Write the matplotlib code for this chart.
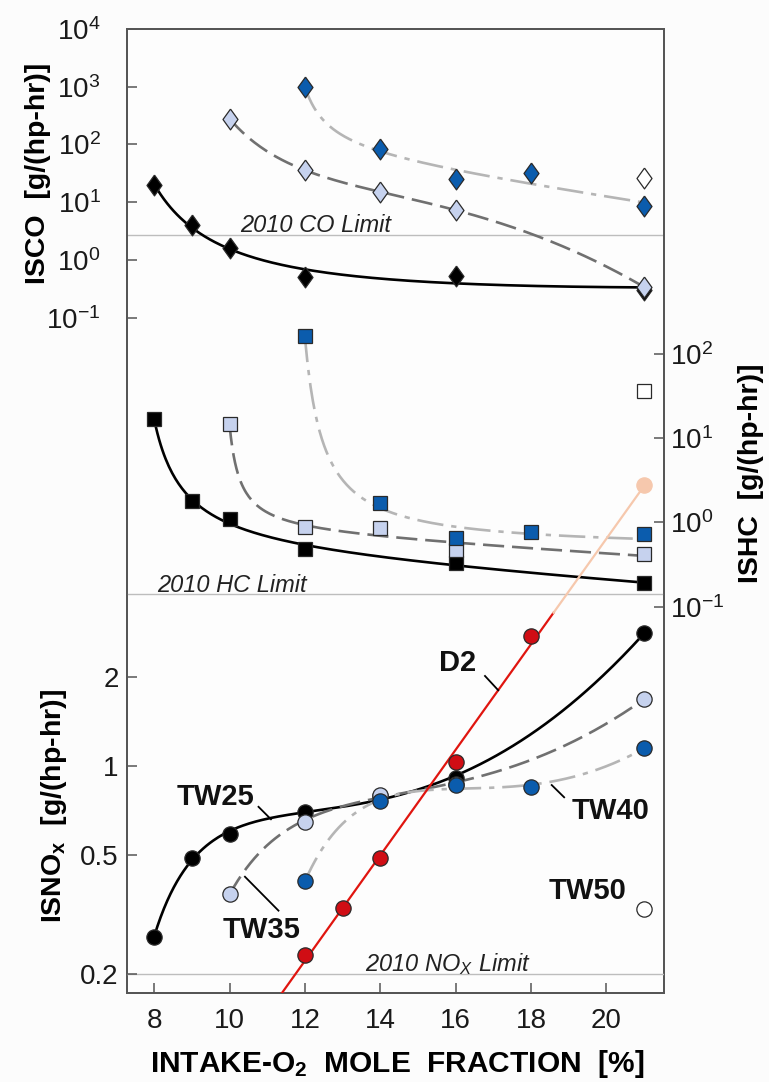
import numpy as np
import matplotlib
matplotlib.use('Agg')
import matplotlib.pyplot as plt
from matplotlib.ticker import NullLocator

plt.rcParams['font.family'] = ['Liberation Sans', 'DejaVu Sans']
plt.rcParams['mathtext.fontset'] = 'custom'
plt.rcParams['mathtext.rm'] = 'Liberation Sans'
plt.rcParams['mathtext.it'] = 'Liberation Sans:italic'
plt.rcParams['mathtext.bf'] = 'Liberation Sans:bold'
plt.rcParams['mathtext.default'] = 'regular'

# ---- ISCO [g/(hp-hr)] ----
co_tw25_x = [8, 9, 10, 12, 16, 21]
co_tw25 = [20, 4.0, 1.6, 0.51, 0.53, 0.30]
co_tw35_x = [10, 12, 14, 16, 21]
co_tw35 = [280, 36, 15, 7.3, 0.34]
co_tw40_x = [12, 14, 16, 18, 21]
co_tw40 = [1000, 83, 25, 32, 8.6]
co_tw50_x = [21]
co_tw50 = [26]

# ---- ISHC [g/(hp-hr)] ----
hc_tw25_x = [8, 9, 10, 12, 16, 21]
hc_tw25 = [16.9, 1.79, 1.09, 0.48, 0.33, 0.19]
hc_tw35_x = [10, 12, 14, 16, 21]
hc_tw35 = [14.6, 0.89, 0.85, 0.47, 0.42]
hc_tw40_x = [12, 14, 16, 18, 21]
hc_tw40 = [164, 1.68, 0.65, 0.77, 0.73]
hc_tw50_x = [21]
hc_tw50 = [36.6]

# ---- ISNOx [g/(hp-hr)] ----
nox_tw25_x = [8, 9, 10, 12, 14, 16, 21]
nox_tw25 = [0.266, 0.49, 0.59, 0.70, 0.79, 0.91, 2.80]
nox_tw35_x = [10, 12, 14, 16, 21]
nox_tw35 = [0.37, 0.65, 0.80, 0.87, 1.68]
nox_tw40_x = [12, 14, 16, 18, 21]
nox_tw40 = [0.41, 0.76, 0.86, 0.85, 1.15]
nox_tw50_x = [21]
nox_tw50 = [0.33]
d2_x = [12, 13, 14, 16, 18, 21]
d2_nox = [0.232, 0.332, 0.49, 1.03, 2.74, 8.8]

# 2010 emission limits
co_limit = 2.7
hc_limit = 0.14
nox_limit = 0.2

# colours / styles
BLACK = '#000000'
LIGHT = '#c6d2ee'
BLUE = '#0b5cad'
RED = '#d00d14'
PEACH = '#f6c8ad'
EDGE = '#2a2a2a'
C35 = '#707070'
C40 = '#b5b5b5'
LIMIT = '#bdbdbd'
FRAME = '#555555'
DASH35 = (0, (8, 3))
DASH40 = (0, (10, 3, 2, 3))
DIAMOND = [(0, 1), (0.72, 0), (0, -1), (-0.72, 0), (0, 1)]
d2_fade_from = 18.6


def trend(x, y, order):
    # least squares: log10(y) = a + b/(x-c) + d*x + e*x^2 ...
    x = np.asarray(x, float)
    ly = np.log10(y)

    def design(xx, c):
        cols = [np.ones_like(xx), 1.0 / (xx - c)] + [xx ** k for k in range(1, order + 1)]
        return np.column_stack(cols)

    best = None
    for c in np.linspace(x[0] - 4, x[0] - 0.05, 400):
        A = design(x, c)
        coef = np.linalg.lstsq(A, ly, rcond=None)[0]
        err = np.sum((A @ coef - ly) ** 2)
        if best is None or err < best[0]:
            best = (err, c, coef)
    _, c, coef = best
    xs = np.linspace(x[0], x[-1], 300)
    return xs, 10 ** (design(xs, c) @ coef)


def series(axis, x, y, face, lcolor, ls, order, marker, ms, edge=EDGE):
    if lcolor is not None:
        xs, ys = trend(x, y, order)
        axis.plot(xs, ys, color=lcolor, ls=ls, lw=1.9, zorder=2)
    axis.plot(x, y, ls='none', marker=marker, ms=ms, mfc=face, mec=edge,
              mew=0.9, zorder=3)


fig = plt.figure(figsize=(7.69, 10.82), dpi=100, facecolor='#fcfcfc')
rect = [127 / 769, 1 - 993 / 1082, (664 - 127) / 769, (993 - 29) / 1082]

ax = fig.add_axes(rect, facecolor='#fdfdfd')
axh = ax.twinx()
axn = fig.add_axes(rect, sharex=ax, label='nox')
axn.patch.set_visible(False)

for a in (ax, axh, axn):
    a.set_yscale('log')
ax.set_xlim(7.28, 21.53)
ax.set_ylim(10 ** -12.70, 1e4)
axh.set_ylim(10 ** -5.586, 10 ** 5.858)
axn.set_ylim(10 ** -0.764, 10 ** 2.481)

# limit lines
ax.axhline(co_limit, color=LIMIT, lw=1.0, zorder=1)
axh.axhline(hc_limit, color=LIMIT, lw=1.0, zorder=1)
axn.axhline(nox_limit, color=LIMIT, lw=1.0, zorder=1)

# ISCO
series(ax, co_tw25_x, co_tw25, BLACK, BLACK, '-', 1, DIAMOND, 15)
series(ax, co_tw35_x, co_tw35, LIGHT, C35, DASH35, 2, DIAMOND, 15)
series(ax, co_tw40_x, co_tw40, BLUE, C40, DASH40, 1, DIAMOND, 15)
series(ax, co_tw50_x, co_tw50, 'white', None, None, 0, DIAMOND, 15)

# ISHC
series(axh, hc_tw25_x, hc_tw25, BLACK, BLACK, '-', 1, 's', 10)
series(axh, hc_tw35_x, hc_tw35, LIGHT, C35, DASH35, 1, 's', 10)
series(axh, hc_tw40_x, hc_tw40, BLUE, C40, DASH40, 0, 's', 10)
series(axh, hc_tw50_x, hc_tw50, 'white', None, None, 0, 's', 10)

# ISNOx
series(axn, nox_tw25_x, nox_tw25, BLACK, BLACK, '-', 2, 'o', 11)
series(axn, nox_tw35_x, nox_tw35, LIGHT, C35, DASH35, 2, 'o', 11)
series(axn, nox_tw40_x, nox_tw40, BLUE, C40, DASH40, 2, 'o', 11)
series(axn, nox_tw50_x, nox_tw50, 'white', None, None, 0, 'o', 11)

# D2: straight line in log space
k, b = np.polyfit(d2_x, np.log10(d2_nox), 1)
x_lo = ax.get_xlim()[0]
xs = np.linspace(x_lo, d2_fade_from, 100)
axn.plot(xs, 10 ** (k * xs + b), color='#e0150f', lw=1.6, zorder=2)
xs = np.linspace(d2_fade_from, d2_x[-1], 50)
axn.plot(xs, 10 ** (k * xs + b), color=PEACH, lw=1.6, zorder=2)
for xi, yi in zip(d2_x, d2_nox):
    faded = xi > d2_fade_from
    axn.plot(xi, yi, ls='none', marker='o', ms=11,
             mfc=PEACH if faded else RED, mec=PEACH if faded else EDGE,
             mew=0.9, zorder=3)

# series labels with leaders
lab = dict(fontsize=21, fontweight='bold', ha='center', va='center', color='#111111')
axn.text(16.05, 2.22, 'D2', **lab)
axn.plot([16.78, 17.13], [2.01, 1.80], color=BLACK, lw=1.3)
axn.text(9.62, 0.787, 'TW25', **lab)
axn.plot([10.77, 11.10], [0.729, 0.662], color=BLACK, lw=1.3)
axn.text(20.12, 0.705, 'TW40', **lab)
axn.plot([18.55, 18.88], [0.863, 0.785], color=BLACK, lw=1.3)
axn.text(10.86, 0.280, 'TW35', **lab)
axn.plot([10.41, 11.30], [0.424, 0.326], color=BLACK, lw=1.3)
axn.text(19.50, 0.379, 'TW50', **lab)

# limit captions
cap = dict(fontsize=17, style='italic', color='#222222', va='baseline',
           textcoords='offset points', xytext=(0, 2))
ax.annotate('2010 CO Limit', xy=(10.28, co_limit), **cap)
axh.annotate('2010 HC Limit', xy=(8.08, hc_limit), **cap)
axn.annotate(r'2010 NO$_{\mathit{X}}$ Limit', xy=(13.6, nox_limit), **cap)

# ticks
ax.set_xticks([8, 10, 12, 14, 16, 18, 20])
ax.set_yticks([10.0 ** p for p in range(-1, 5)])
ax.set_yticklabels([r'$10^{%d}$' % p for p in range(-1, 5)])
axh.set_yticks([10.0 ** p for p in range(-1, 3)])
axh.set_yticklabels([r'$10^{%d}$' % p for p in range(-1, 3)])
axn.set_yticks([0.2, 0.5, 1, 2])
axn.set_yticklabels(['0.2', '0.5', '1', '2'])
for a in (ax, axh, axn):
    a.yaxis.set_minor_locator(NullLocator())
axn.xaxis.set_visible(False)

tk = dict(direction='in', length=7, width=1.1, color=FRAME, labelcolor='#1a1a1a')
ax.tick_params(axis='x', labelsize=20, pad=11, top=False, **tk)
ax.tick_params(axis='y', labelsize=20, pad=19, right=False, **tk)
axh.tick_params(axis='y', labelsize=20, pad=4, left=False, **tk)
axn.tick_params(axis='y', labelsize=20, pad=6, right=False, **tk)

for a in (ax, axh):
    for s in a.spines.values():
        s.set_color(FRAME)
        s.set_linewidth(1.3)
for s in axn.spines.values():
    s.set_visible(False)

# axis titles
yl = dict(fontsize=20.5, fontweight='bold', rotation=90, ha='center', va='center')
fig.text(38.5 / 769, 1 - 173.5 / 1082, 'ISCO  [g/(hp-hr)]', **yl)
fig.text(54 / 769, 1 - 805.5 / 1082, r'ISNO$_{\mathbf{x}}$  [g/(hp-hr)]', **yl)
fig.text(750.5 / 769, 1 - 473.5 / 1082, 'ISHC  [g/(hp-hr)]', **yl)
fig.text(397 / 769, 1 - 1071.7 / 1082, r'INTAKE-O$_{\mathbf{2}}$  MOLE  FRACTION  [%]',
         fontsize=21.5, fontweight='bold', ha='center', va='baseline')

fig.savefig('out.png', dpi=100, facecolor=fig.get_facecolor())
